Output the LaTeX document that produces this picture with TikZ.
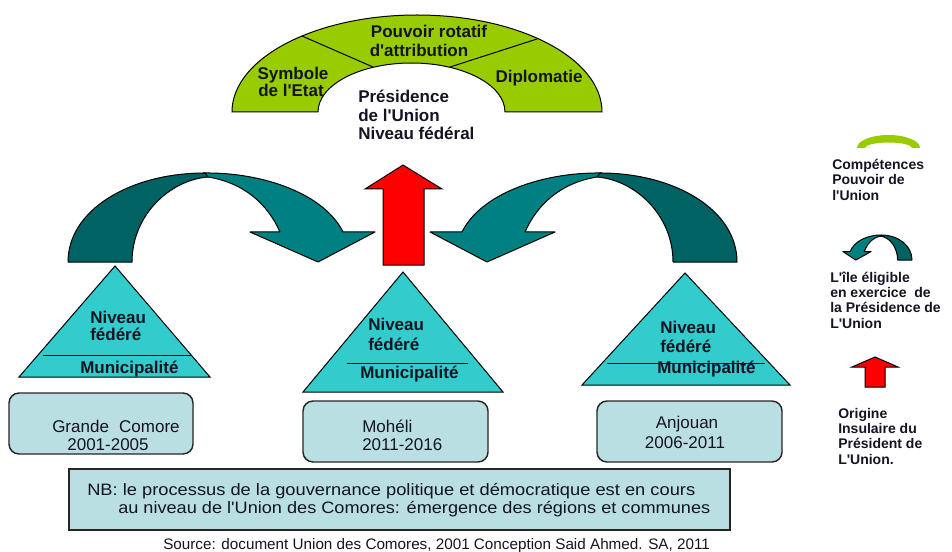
\documentclass[tikz,border=0pt]{standalone}
\usepackage{fontspec}
\setmainfont{Liberation Sans}
\usepackage{graphicx}
\definecolor{archgreen}{RGB}{153,204,0}
\definecolor{tealA}{RGB}{0,128,128}
\definecolor{tealB}{RGB}{0,98,98}
\definecolor{trifill}{RGB}{51,204,204}
\definecolor{boxfill}{RGB}{185,223,227}
\definecolor{inkc}{RGB}{20,20,35}
\definecolor{redfill}{RGB}{255,0,0}
\newcommand\fsxvii{\fontsize{12.75pt}{15pt}\selectfont}
\newcommand\fsxiv{\fontsize{10.5pt}{12pt}\selectfont}
\newcommand\fsnb{\fontsize{12.4pt}{14pt}\selectfont}
\newcommand\fssrc{\fontsize{11.4pt}{13pt}\selectfont}
\newcommand\apos{\textquotesingle}
\newcommand\ribbonarrow{%
  \filldraw[fill=tealA,draw=black,line width=0.75pt,line join=round]
    (203,173) .. controls (265,172) and (325,195) .. (343,232)
    -- (375,232) -- (318,262) -- (250,232) -- (280,232)
    .. controls (268,205) and (245,183) .. (208,177) -- cycle;
  \filldraw[fill=tealB,draw=black,line width=0.75pt,line join=round]
    (68,262) .. controls (68,210) and (130,173) .. (205,173)
    -- (208,177) .. controls (170,180) and (132,215) .. (132,262) -- cycle;
}
\begin{document}
\begin{tikzpicture}[x=0.75pt,y=-0.75pt,
  lbl/.style={inner sep=0pt,anchor=base west,font=\fsxvii\bfseries,text=inkc},
  lblc/.style={inner sep=0pt,anchor=base,font=\fsxvii\bfseries,text=inkc},
  boxtxt/.style={inner sep=0pt,anchor=base west,font=\fsxvii,text=inkc},
  boxtxtc/.style={inner sep=0pt,anchor=base,font=\fsxvii,text=inkc},
  legtxt/.style={inner sep=0pt,anchor=base west,font=\fsxiv\bfseries,text=inkc},
  thinline/.style={draw=black,line width=0.75pt},
  tri/.style={fill=trifill,draw=black,line width=0.75pt,line join=miter},
  isbox/.style={fill=boxfill,draw=black!85,line width=1.1pt,rounded corners=7.5pt},
  nbbox/.style={fill=boxfill,draw=black!85,line width=1.3pt},
  redarrow/.style={fill=redfill,draw=black,line width=0.75pt,line join=miter}
]
\useasboundingbox (0,0) rectangle (952,552);
\fill[white] (0,0) rectangle (952,552);

% ---------- arch ----------
\filldraw[fill=archgreen,draw=black,line width=0.75pt]
  (232,112) arc[start angle=180,end angle=360,x radius=185,y radius=97]
  -- (505,112) arc[start angle=360,end angle=180,x radius=93.5,y radius=49] -- cycle;
\draw[thinline] (302,36) -- (373,67);
\draw[thinline] (537,39) -- (450,67);
\node[lblc] (pouv1) at (429,38) {Pouvoir rotatif};
\node[lblc] (pouv2) at (419,57) {d\apos attribution};
\node[lblc] (symb1) at (293,80) {Symbole};
\node[lblc] (symb2) at (291,97) {de l\apos Etat};
\node[lblc] (dipl) at (539,83) {Diplomatie};
\node[lbl] (pres1) at (358,103) {Présidence};
\node[lbl] (pres2) at (358,122) {de l\apos Union};
\node[lbl] (pres3) at (358,140) {Niveau fédéral};

% ---------- curved arrows ----------
\begin{scope}
  \ribbonarrow
\end{scope}
\begin{scope}[shift={(805,0)},xscale=-1]
  \ribbonarrow
\end{scope}

% ---------- red arrow ----------
\draw[redarrow] (403,165) -- (442,189) -- (424,189) -- (424,265) -- (383,265)
  -- (383,189) -- (365,189) -- cycle;

% ---------- triangles ----------
\draw[tri] (115,266) -- (210,377) -- (19,377) -- cycle;
\draw[thinline] (43,355) -- (192,355);
\node[lbl] (t1a) at (90,323) {Niveau};
\node[lbl] (t1b) at (90,340) {fédéré};
\node[lbl] (t1c) at (80,373) {Municipalité};

\draw[tri] (403,272) -- (503,392) -- (303,392) -- cycle;
\draw[thinline] (347,363) -- (468,363);
\node[lbl] (t2a) at (368,330) {Niveau};
\node[lbl] (t2b) at (368,350) {fédéré};
\node[lbl] (t2c) at (360,378) {Municipalité};

\draw[tri] (685,273) -- (790,385) -- (582,385) -- cycle;
\draw[thinline] (607,363) -- (765,363);
\node[lbl] (t3a) at (660,333) {Niveau};
\node[lbl] (t3b) at (660,352) {fédéré};
\node[lbl] (t3c) at (657,373) {Municipalité};

% ---------- island boxes ----------
\draw[isbox] (9,393) rectangle (193,454);
\node[boxtxt] (gc1) at (52,432) {Grande\hspace{0.6em}Comore};
\node[boxtxtc] (gc2) at (108,450) {2001-2005};
\draw[isbox] (303,401) rectangle (488,462);
\node[boxtxt] (mo1) at (362,432) {Mohéli};
\node[boxtxt] (mo2) at (362,450) {2011-2016};
\draw[isbox] (597,401) rectangle (782,462);
\node[boxtxtc] (an1) at (687,428) {Anjouan};
\node[boxtxtc] (an2) at (685,448) {2006-2011};

% ---------- NB box ----------
\draw[nbbox] (69,469) rectangle (730,530);
\node[inner sep=0pt,anchor=base west,text=inkc] (nb1) at (87,495)
  {\resizebox{456pt}{\height}{\fsnb NB: le processus de la gouvernance politique et démocratique est en cours}};
\node[inner sep=0pt,anchor=base west,text=inkc] (nb2) at (118,513)
  {\resizebox{444pt}{\height}{\fsnb au niveau de l\apos Union des Comores: émergence des régions et communes}};
\node[inner sep=0pt,anchor=base west,text=inkc] (src) at (163,549)
  {\resizebox{410pt}{\height}{\fssrc Source: document Union des Comores, 2001 Conception Said Ahmed. SA, 2011}};

% ---------- legend ----------
\fill[archgreen] (857,148) arc[start angle=180,end angle=360,x radius=31.5,y radius=13]
  -- (912,148) arc[start angle=360,end angle=180,x radius=23.5,y radius=5.5] -- cycle;
\node[legtxt] (lg1a) at (832,170) {Compétences};
\node[legtxt] (lg1b) at (832,185) {Pouvoir de};
\node[legtxt] (lg1c) at (832,201) {l\apos Union};

\begin{scope}[shift={(927.3,186.4)},xscale=-0.225,yscale=0.281]
  \ribbonarrow
\end{scope}
\node[legtxt] (lg2a) at (830,282) {L\apos île éligible};
\node[legtxt] (lg2b) at (830,297) {en exercice~ de};
\node[legtxt] (lg2c) at (830,312) {la Présidence de};
\node[legtxt] (lg2d) at (830,328) {L\apos Union};

\draw[redarrow] (875,357) -- (898,367) -- (885,367) -- (885,387) -- (865,387)
  -- (865,367) -- (852,367) -- cycle;
\node[legtxt] (lg3a) at (838,418) {Origine};
\node[legtxt] (lg3b) at (838,433) {Insulaire du};
\node[legtxt] (lg3c) at (838,448) {Président de};
\node[legtxt] (lg3d) at (838,464) {L\apos Union.};
\end{tikzpicture}
\end{document}
